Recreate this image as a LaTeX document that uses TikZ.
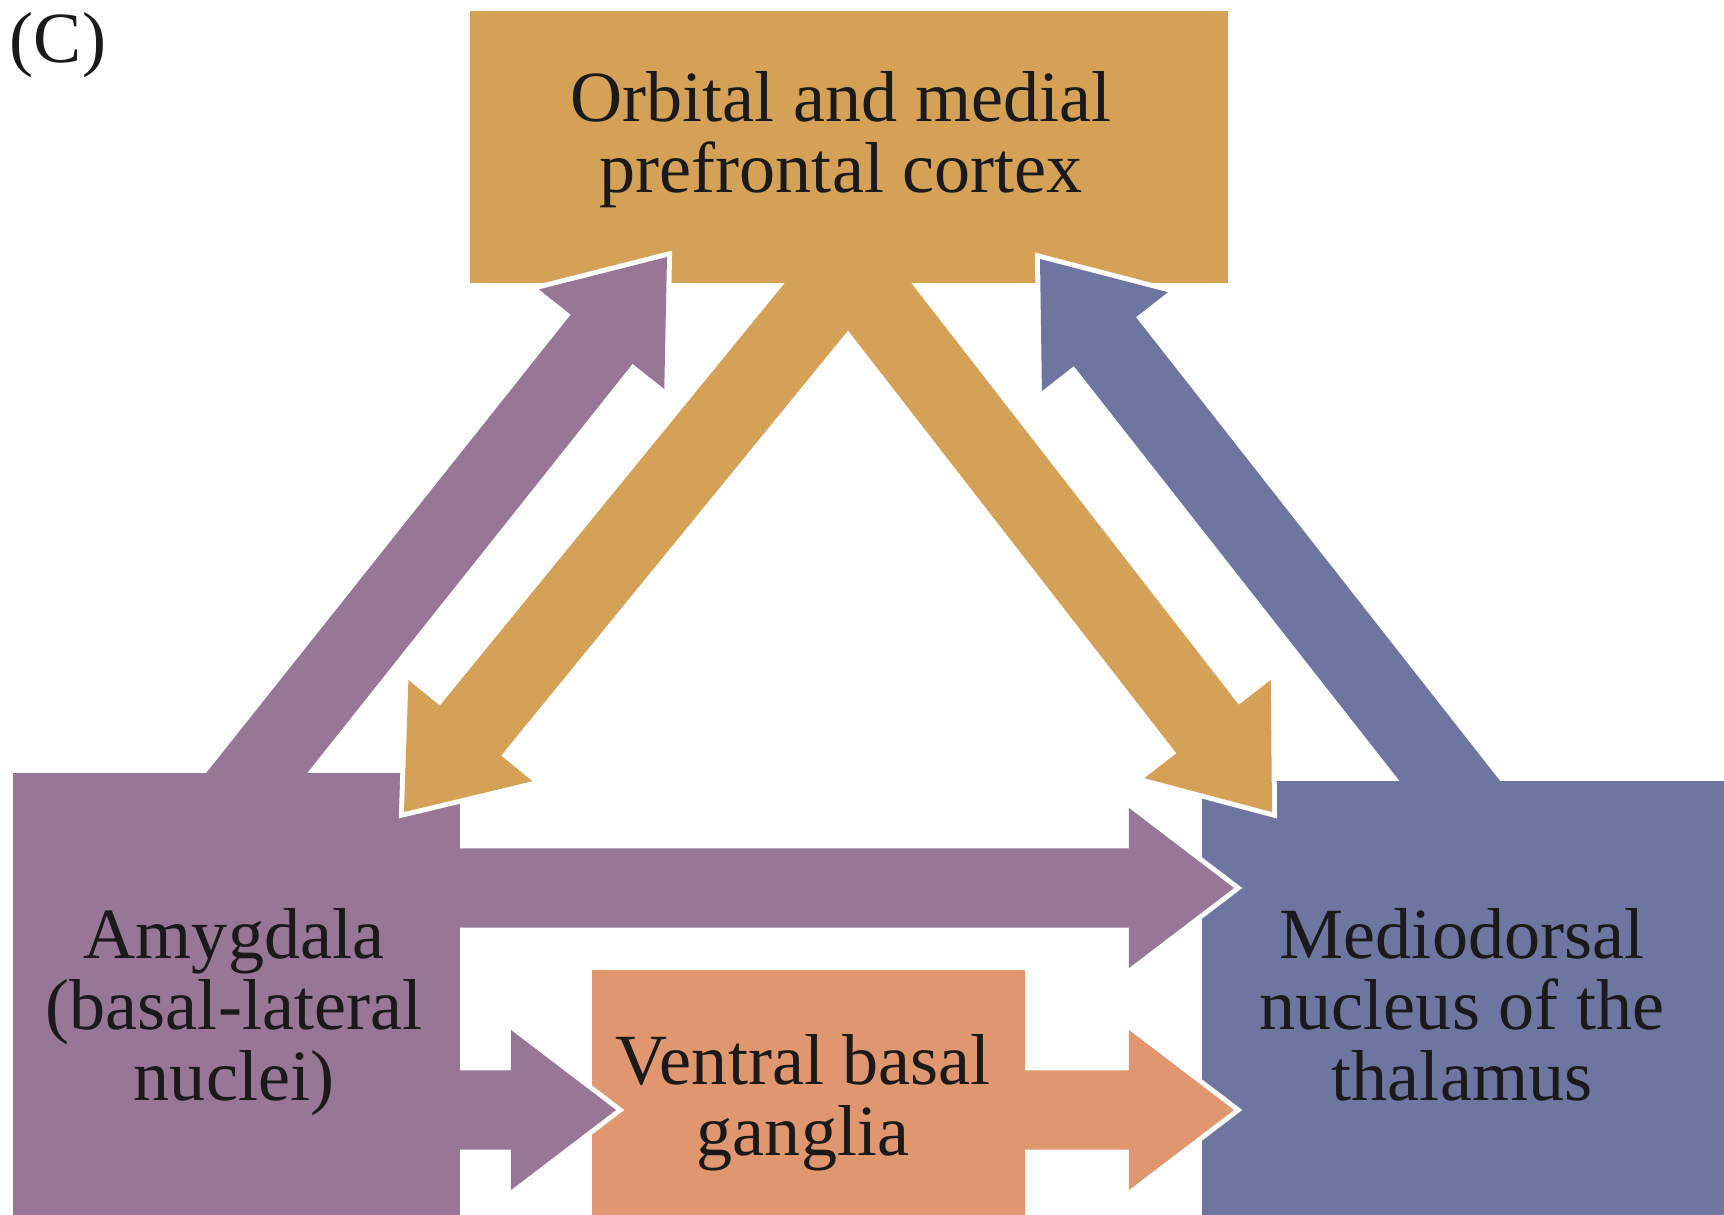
\documentclass[tikz,border=0pt]{standalone}
\usepackage{fontspec}
\setmainfont{Liberation Serif}
\usetikzlibrary{calc}

\definecolor{ochre}{HTML}{D4A156}
\definecolor{mauve}{HTML}{977696}
\definecolor{slate}{HTML}{6E75A0}
\definecolor{salmon}{HTML}{E0966E}
\definecolor{ink}{HTML}{1A1A1A}

% Broad block arrow: #1 colour, #2 start, #3 tip.
% The head gets a white rim so it stands out where it overlaps a box.
\newcommand{\shafthalf}{0.395cm}
\newcommand{\headhalf}{0.8cm}
\newcommand{\headlen}{1.05cm}
\newcommand{\fatarrow}[3]{%
  \coordinate (hb) at ($(#3)!\headlen!(#2)$);
  \draw[white, line width=0.1cm, line join=miter, miter limit=10]
    ($(hb)!\shafthalf!90:(#3)$) -- ($(hb)!\headhalf!90:(#3)$) -- (#3)
    -- ($(hb)!\headhalf!-90:(#3)$) -- ($(hb)!\shafthalf!-90:(#3)$);
  \fill[#1] ($(#2)!\shafthalf!90:(#3)$) -- ($(hb)!\shafthalf!90:(#3)$)
    -- ($(hb)!\headhalf!90:(#3)$) -- (#3) -- ($(hb)!\headhalf!-90:(#3)$)
    -- ($(hb)!\shafthalf!-90:(#3)$) -- ($(#2)!\shafthalf!-90:(#3)$) -- cycle;
}

\tikzset{
  box/.style={rectangle, inner sep=0pt, outer sep=0pt, draw=none},
  caption/.style={text=ink, align=center, inner sep=0pt,
    font=\fontsize{20.5pt}{20.1pt}\selectfont},
}

\begin{document}
\begin{tikzpicture}[x=0.01cm, y=-0.01cm]
  \useasboundingbox (0,0) rectangle (1724,1215);

  % regions
  \node[box, fill=ochre,  minimum width=7.58cm, minimum height=2.72cm] (orb) at (849,147) {};
  \node[box, fill=mauve,  minimum width=4.47cm, minimum height=4.52cm] (amy) at (236.5,999) {};
  \node[box, fill=slate,  minimum width=5.32cm, minimum height=4.44cm] (md)  at (1468,1003) {};
  \node[box, fill=salmon, minimum width=4.33cm, minimum height=2.55cm] (vbg) at (808.5,1097.5) {};

  % arrow end points
  \coordinate (amyUp)   at (209,833);
  \coordinate (orbL)    at (667,257);
  \coordinate (mdUp)    at (1497,841);
  \coordinate (orbR)    at (1040,259);
  \coordinate (orbMidL) at (879,230);
  \coordinate (orbMidR) at (820,230);
  \coordinate (amyIn)   at (404,812);
  \coordinate (mdIn)    at (1272,812);
  \coordinate (amyR)    at (440,888);
  \coordinate (mdL)     at (1234,888);
  \coordinate (amyR2)   at (440,1110);
  \coordinate (vbgL)    at (616,1110);
  \coordinate (vbgR)    at (1000,1110);
  \coordinate (mdL2)    at (1234,1110);

  % connections
  \fatarrow{ochre}{orbMidL}{amyIn}
  \fatarrow{ochre}{orbMidR}{mdIn}
  \fatarrow{mauve}{amyUp}{orbL}
  \fatarrow{slate}{mdUp}{orbR}
  \fatarrow{mauve}{amyR}{mdL}
  \fatarrow{mauve}{amyR2}{vbgL}
  \fatarrow{salmon}{vbgR}{mdL2}

  % labels
  \node[caption] (tag) at (58,45) {(C)};
  \node[caption] (orbT) at (841,140) {Orbital and medial\\prefrontal cortex};
  \node[caption] (amyT) at (234,1012) {Amygdala\\(basal-lateral\\nuclei)};
  \node[caption] (mdT)  at (1462,1005) {Mediodorsal\\nucleus of the\\thalamus};
  \node[caption] (vbgT) at (803,1103) {Ventral basal\\ganglia};
\end{tikzpicture}
\end{document}
